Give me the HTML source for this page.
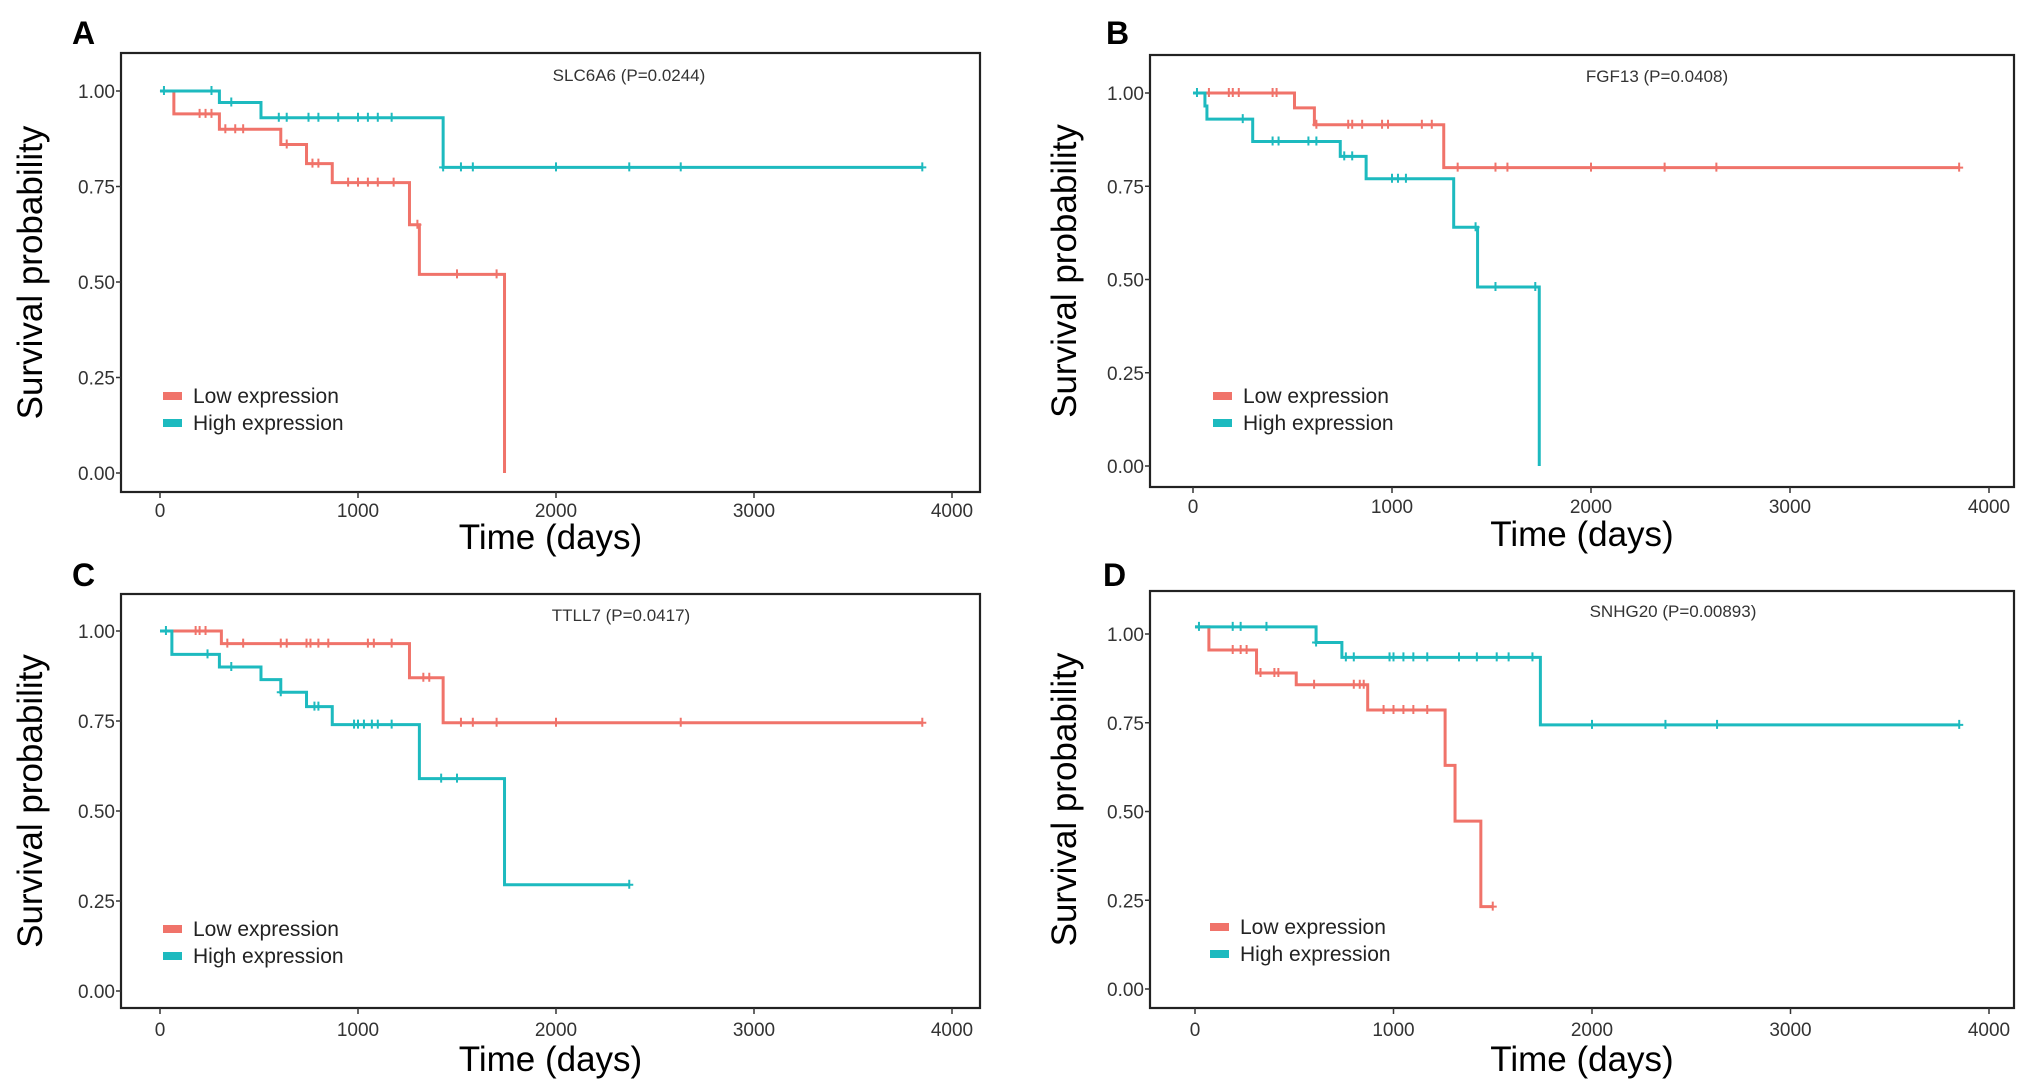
<!DOCTYPE html>
<html><head><meta charset="utf-8"><style>
html,body{margin:0;padding:0;background:#fff;}
svg{display:block;font-family:"Liberation Sans",sans-serif;}
</style></head><body>
<svg id="fig" width="2031" height="1087" viewBox="0 0 2031 1087" xmlns="http://www.w3.org/2000/svg"></svg>
<script>
// ---- data ----
const panelIds = ['A','B','C','D'];
const panelTitles = ['SLC6A6 (P=0.0244)','FGF13 (P=0.0408)','TTLL7 (P=0.0417)','SNHG20 (P=0.00893)'];
const xTickValues = [0,1000,2000,3000,4000];
const yTickValues = [0,0.25,0.5,0.75,1];
const yTickLabels = ['0.00','0.25','0.50','0.75','1.00'];
const legendLabels = ['Low expression','High expression'];

const lowTimesA = [0,70,300,610,740,870,1260,1310,1740];
const lowSurvA  = [1,0.94,0.90,0.86,0.81,0.76,0.65,0.52,0.0];
const lowEndA = 1740;
const lowCensA = [200,230,260,330,380,420,640,770,800,950,1000,1050,1100,1180,1300,1500,1700];
const highTimesA = [0,300,510,1430];
const highSurvA  = [1,0.97,0.93,0.80];
const highEndA = 3850;
const highCensA = [20,260,360,600,640,750,800,900,1000,1050,1100,1170,1430,1520,1580,2000,2370,2630,3850];

const lowTimesB = [0,510,610,1260];
const lowSurvB  = [1,0.96,0.915,0.80];
const lowEndB = 3850;
const lowCensB = [80,180,200,230,400,420,620,780,800,850,950,980,1150,1200,1330,1520,1580,2000,2370,2630,3850];
const highTimesB = [0,60,70,300,740,870,1310,1430,1740];
const highSurvB  = [1,0.965,0.93,0.87,0.83,0.77,0.64,0.48,0.0];
const highEndB = 1740;
const highCensB = [20,250,400,430,580,620,760,800,1000,1030,1070,1420,1520,1720];

const lowTimesC = [0,310,1260,1430];
const lowSurvC  = [1,0.965,0.87,0.745];
const lowEndC = 3850;
const lowCensC = [180,200,230,340,420,610,640,740,760,800,850,1050,1080,1170,1330,1360,1520,1580,1700,2000,2630,3850];
const highTimesC = [0,60,300,510,610,740,870,1310,1740];
const highSurvC  = [1,0.935,0.90,0.865,0.83,0.79,0.74,0.59,0.295];
const highEndC = 2370;
const highCensC = [30,240,360,610,780,800,980,1000,1030,1070,1100,1170,1420,1500,2370];

const lowTimesD = [0,70,310,510,870,1260,1310,1440];
const lowSurvD  = [1.02,0.955,0.89,0.857,0.786,0.63,0.473,0.232];
const lowEndD = 1500;
const lowCensD = [190,230,260,330,400,420,600,800,830,850,950,1000,1050,1100,1170,1500];
const highTimesD = [0,610,740,1740];
const highSurvD  = [1.02,0.976,0.934,0.744];
const highEndD = 3850;
const highCensD = [20,190,230,360,610,760,800,980,1000,1050,1100,1170,1330,1420,1520,1580,1700,2000,2370,2630,3850];

const lowSeries = [[lowTimesA,lowSurvA,lowEndA,lowCensA],[lowTimesB,lowSurvB,lowEndB,lowCensB],[lowTimesC,lowSurvC,lowEndC,lowCensC],[lowTimesD,lowSurvD,lowEndD,lowCensD]];
const highSeries = [[highTimesA,highSurvA,highEndA,highCensA],[highTimesB,highSurvB,highEndB,highCensB],[highTimesC,highSurvC,highEndC,highCensC],[highTimesD,highSurvD,highEndD,highCensD]];

// ---- layout ----
const layouts = [
 {l:121,t:53,r:980,b:492,x0:160,x4:952,y0:473,y1:91,lab:[72,44],title:[629,81],leg:[163,396],ytx:30,xt:549,tx:517},
 {l:1150,t:55,r:2014,b:487,x0:1193,x4:1989,y0:466,y1:93,lab:[1106,44],title:[1657,82],leg:[1213,396],ytx:1064,xt:546,tx:513},
 {l:121,t:594,r:980,b:1008,x0:160,x4:952,y0:991,y1:631,lab:[72,586],title:[621,621],leg:[163,929],ytx:30,xt:1071,tx:1036},
 {l:1150,t:591,r:2014,b:1008,x0:1195,x4:1989,y0:989,y1:634,lab:[1103,586],title:[1673,617],leg:[1210,927],ytx:1064,xt:1071,tx:1036}
];
const RED='#F0736A', TEAL='#1DBABF';
const NS='http://www.w3.org/2000/svg';
const svg=document.getElementById('fig');
function mk(tag,attrs,parent){const e=document.createElementNS(NS,tag);for(const k in attrs)e.setAttribute(k,attrs[k]);(parent||svg).appendChild(e);return e;}

function stepPath(times,surv,end,sx,sy){
  let d='M'+sx(times[0])+','+sy(surv[0]);
  for(let i=1;i<times.length;i++){d+=' H'+sx(times[i])+' V'+sy(surv[i]);}
  d+=' H'+sx(end);
  return d;
}
function survAt(times,surv,t){let v=surv[0];for(let i=0;i<times.length;i++){if(times[i]<=t)v=surv[i];}return v;}

layouts.forEach((L,pi)=>{
  const g=mk('g',{});
  
  
  const sx=v=>L.x0+(L.x4-L.x0)*v/4000;
  const sy=v=>L.y0+(L.y1-L.y0)*v;
  const lab=mk('text',{x:L.lab[0],y:L.lab[1],'font-size':32,'font-weight':'bold',fill:'#000'},g);
  lab.textContent=panelIds[pi];
  
  
  const box=mk('rect',{x:L.l,y:L.t,width:L.r-L.l,height:L.b-L.t,fill:'none',stroke:'#222','stroke-width':2.2},g);
  
  
  xTickValues.forEach((v,i)=>{
    const x=sx(v);
    mk('line',{x1:x,x2:x,y1:L.b,y2:L.b+6,stroke:'#333','stroke-width':1.5},g);
    const t=mk('text',{x:x,y:L.tx,'font-size':19,fill:'#333','text-anchor':'middle'},g);
    t.textContent=String(v);
    
    
  });
  yTickValues.forEach((v,i)=>{
    const y=sy(v);
    mk('line',{x1:L.l-5,x2:L.l,y1:y,y2:y,stroke:'#333','stroke-width':1.5},g);
    const t=mk('text',{x:L.l-6,y:y+7,'font-size':19,fill:'#333','text-anchor':'end'},g);
    t.textContent=yTickLabels[i];
    
    
  });
  const xt=mk('text',{x:(L.l+L.r)/2,y:L.xt,'font-size':35,fill:'#000','text-anchor':'middle'},g);
  xt.textContent='Time (days)';
  
  
  const yc=(L.t+L.b)/2;
  const yt=mk('text',{x:L.ytx+12,y:yc,'font-size':35,fill:'#000','text-anchor':'middle',transform:'rotate(-90 '+(L.ytx+12)+' '+yc+')'},g);
  yt.textContent='Survival probability';
  
  
  const tt=mk('text',{x:L.title[0],y:L.title[1],'font-size':17,fill:'#333','text-anchor':'middle'},g);
  tt.textContent=panelTitles[pi];
  
  

  [[lowSeries[pi],RED,'low'],[highSeries[pi],TEAL,'high']].forEach(([s,col,nm])=>{
    const p=mk('path',{d:stepPath(s[0],s[1],s[2],sx,sy),fill:'none',stroke:col,'stroke-width':3},g);
    
    
    s[3].forEach(c=>{
      const x=sx(c), y=sy(survAt(s[0],s[1],c));
      const m=mk('path',{d:'M'+(x-4)+','+y+' H'+(x+4)+' M'+x+','+(y-5)+' V'+(y+4),stroke:col,'stroke-width':2,fill:'none'},g);
      
      
    });
  });
  [RED,TEAL].forEach((col,i)=>{
    const yy=L.leg[1]+i*27;
    const lg=mk('g',{},g);
    
    
    mk('rect',{x:L.leg[0],y:yy-4,width:19,height:8,fill:col},lg);
    const t=mk('text',{x:L.leg[0]+30,y:yy+7,'font-size':21,fill:'#222'},lg);
    t.textContent=legendLabels[i];
  });
});
</script>
</body></html>
